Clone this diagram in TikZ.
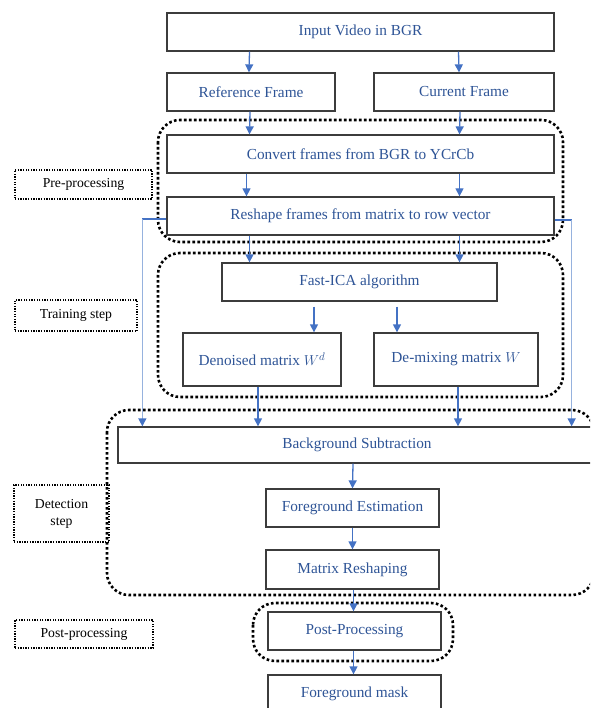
\documentclass[tikz,border=0pt]{standalone}
\usepackage{fontspec}
\setmainfont{Liberation Serif}
\usetikzlibrary{arrows.meta}

\definecolor{txtblue}{RGB}{46,84,150}
\definecolor{arrblue}{RGB}{68,114,196}
\definecolor{lightblue}{RGB}{150,178,222}
\definecolor{boxgray}{RGB}{60,60,60}

\tikzset{
  box/.style={draw=boxgray, line width=1.3pt, inner sep=0pt, text=txtblue,
    font=\fontsize{15.3}{18}\selectfont},
  lblbox/.style={draw=black, line width=1.3pt, dash pattern=on 1.3pt off 1.3pt,
    inner sep=0pt, align=center, font=\fontsize{13.7}{17}\selectfont},
  grp/.style={draw=black, line width=2.6pt, dash pattern=on 2.6pt off 2.4pt,
    rounded corners=22pt},
  flow/.style={draw=arrblue, line width=1.3pt, -{Triangle[width=8pt,length=8pt]}},
  feed/.style={draw=arrblue, line width=1.2pt},
  feeddown/.style={draw=lightblue, line width=1.3pt,
    -{Triangle[width=8pt,length=8pt,color=arrblue]}}
}

\begin{document}
\begin{tikzpicture}[x=1pt, y=-1pt]

  \clip (0,0) rectangle (590,708);

  % --- gruppi tratteggiati ---
  \draw[grp] (158,120) rectangle (563,242);
  \draw[grp] (158,253) rectangle (563,397);
  \draw[grp] (107,410) rectangle (594,595);
  \draw[grp] (253,603) rectangle (453,661);

  % --- etichette a sinistra ---
  \node[lblbox, minimum width=137pt, minimum height=29pt] (lpre) at (83.5,184.5) {Pre-processing};
  \node[lblbox, minimum width=122pt, minimum height=31pt] (ltrain) at (76,315.5) {Training step};
  \node[lblbox, minimum width=95pt, minimum height=57pt] (ldet) at (61.5,513.5) {Detection\\step};
  \node[lblbox, minimum width=138pt, minimum height=28pt] (lpost) at (84,634) {Post-processing};

  % --- blocchi ---
  \node[box, minimum width=387pt, minimum height=38pt] (input) at (360.5,32) {Input Video in BGR};
  \node[box, minimum width=168pt, minimum height=38pt] (refer) at (251,92) {Reference Frame};
  \node[box, minimum width=180pt, minimum height=38pt] (curr) at (464,92) {Current Frame};
  \node[box, minimum width=387pt, minimum height=38pt] (conv) at (360.5,154) {Convert frames from BGR to YCrCb};
  \node[box, minimum width=387pt, minimum height=38pt] (reshape) at (360.5,216) {Reshape frames from matrix to row vector};
  \node[box, minimum width=275pt, minimum height=38pt] (fica) at (359.5,282) {Fast-ICA algorithm};
  \node[box, minimum width=158pt, minimum height=53pt] (den) at (262,359.5) {Denoised matrix $W^{d}$};
  \node[box, minimum width=164pt, minimum height=53pt] (demix) at (456,359.5) {De-mixing matrix $W$};
  \node[box, minimum width=478pt, minimum height=36pt] (bgs) at (357,445) {Background Subtraction};
  \node[box, minimum width=173pt, minimum height=38pt] (fge) at (352.5,508) {Foreground Estimation};
  \node[box, minimum width=173pt, minimum height=39pt] (mres) at (352.5,569.5) {Matrix Reshaping};
  \node[box, minimum width=173pt, minimum height=38pt] (post) at (354.5,631) {Post-Processing};
  \node[box, minimum width=173pt, minimum height=38pt] (mask) at (354.5,694) {Foreground mask};

  % --- frecce pre-processing ---
  \draw[flow] ([xshift=-111pt]input.south) -- ([xshift=-2pt]refer.north);
  \draw[flow] ([xshift=98pt]input.south) -- ([xshift=-5pt]curr.north);
  \draw[flow] ([xshift=-1pt]refer.south) -- ([xshift=-111pt]conv.north);
  \draw[flow] ([xshift=-4pt]curr.south) -- ([xshift=99pt]conv.north);
  \draw[flow] ([xshift=-114pt]conv.south) -- ([xshift=-114pt]reshape.north);
  \draw[flow] ([xshift=99pt]conv.south) -- ([xshift=99pt]reshape.north);

  % --- frecce training ---
  \draw[flow] ([xshift=-111pt]reshape.south) -- ([xshift=-110pt]fica.north);
  \draw[flow] ([xshift=99pt]reshape.south) -- ([xshift=100pt]fica.north);
  \draw[flow] ([xshift=-45.5pt,yshift=-5pt]fica.south) -- ([xshift=52pt]den.north);
  \draw[flow] ([xshift=37.5pt,yshift=-5pt]fica.south) -- ([xshift=-59pt]demix.north);

  % --- frecce verso background subtraction ---
  \draw[flow] ([xshift=-4pt]den.south) -- ([xshift=-99pt]bgs.north);
  \draw[flow] ([xshift=2pt]demix.south) -- ([xshift=101pt]bgs.north);

  \coordinate (lft) at ([xshift=-24pt,yshift=-3pt]reshape.west);
  \coordinate (rgt) at ([xshift=17pt,yshift=-4pt]reshape.east);
  \draw[feed] ([yshift=-3pt]reshape.west) -- (lft);
  \draw[feeddown] (lft) -- (lft |- bgs.north);
  \draw[feed] ([yshift=-4pt]reshape.east) -- (rgt);
  \draw[feeddown] (rgt) -- (rgt |- bgs.north);

  % --- frecce detection e post-processing ---
  \draw[flow] ([xshift=-4pt]bgs.south) -- (fge.north);
  \draw[flow] (fge.south) -- (mres.north);
  \draw[flow] ([xshift=1pt]mres.south) -- ([xshift=-1pt]post.north);
  \draw[flow] ([xshift=-1pt]post.south) -- ([xshift=-1pt]mask.north);

\end{tikzpicture}
\end{document}
